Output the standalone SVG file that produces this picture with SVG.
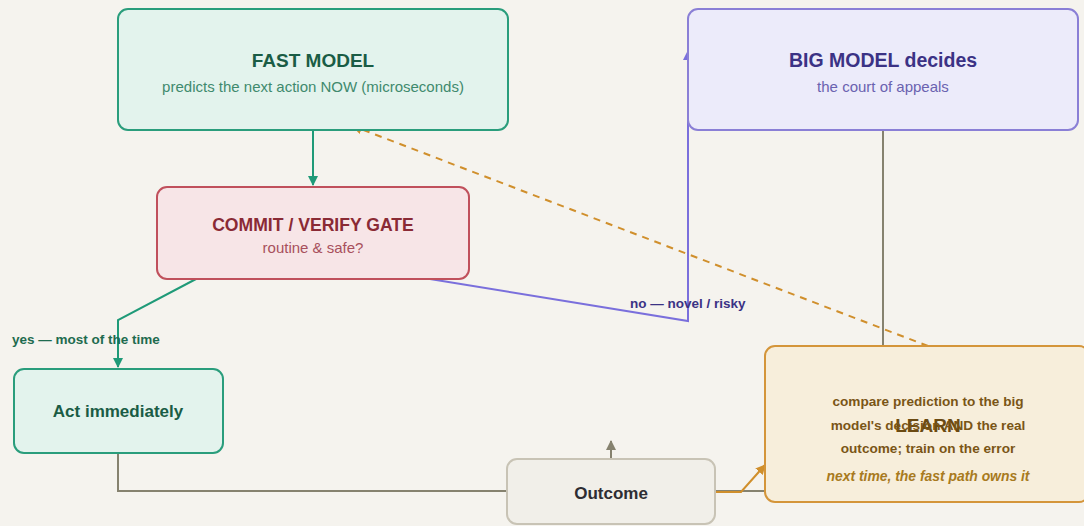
<svg xmlns="http://www.w3.org/2000/svg" width="1084" height="526" viewBox="0 0 1084 526">
  <defs>
    <style>
      .t { font-family: "Liberation Sans", Arial, sans-serif; text-anchor: middle; }
      .title { font-size: 19px; font-weight: bold; }
      .sub { font-size: 15px; }
      .desc { font-size: 13.6px; font-weight: bold; fill: #7a5516; }
      .lbl { font-family: "Liberation Sans", Arial, sans-serif; font-size: 13.5px; font-weight: bold; }
      .edge { fill: none; stroke-width: 2; }
    </style>
    <marker id="ahGreen" viewBox="0 0 10 10" refX="9" refY="5" markerWidth="5" markerHeight="5" orient="auto">
      <path d="M0,0 L10,5 L0,10 z" fill="#1f9a78"/>
    </marker>
    <marker id="ahPurple" viewBox="0 0 10 10" refX="9" refY="5" markerWidth="5" markerHeight="5" orient="auto">
      <path d="M0,0 L10,5 L0,10 z" fill="#7a6fdc"/>
    </marker>
    <marker id="ahGray" viewBox="0 0 10 10" refX="9" refY="5" markerWidth="5" markerHeight="5" orient="auto">
      <path d="M0,0 L10,5 L0,10 z" fill="#86826f"/>
    </marker>
    <marker id="ahOrange" viewBox="0 0 10 10" refX="9" refY="5" markerWidth="5" markerHeight="5" orient="auto">
      <path d="M0,0 L10,5 L0,10 z" fill="#d08f2c"/>
    </marker>
  </defs>

  <rect x="0" y="0" width="1084" height="526" fill="#f5f3ee"/>

  <!-- connectors -->
  <g id="connectors">
    <path class="edge" d="M313,130 L313,185" stroke="#1f9a78" marker-end="url(#ahGreen)"/>
    <path class="edge" d="M196,279 L118,320 L118,367" stroke="#1f9a78" marker-end="url(#ahGreen)"/>
    <path class="edge" d="M430,279 L688,321 L688,51" stroke="#7a6fdc" marker-end="url(#ahPurple)"/>
    <path class="edge" d="M883,130 L883,346" stroke="#86826f"/>
    <path class="edge" d="M118,453 L118,491 L507,491" stroke="#86826f"/>
    <path class="edge" d="M611,459 L611,441" stroke="#86826f" marker-end="url(#ahGray)"/>
    <path class="edge" d="M715,491 L765,491" stroke="#86826f"/>
    <path class="edge" d="M715,492 L741,492 L765,465" stroke="#d08f2c" marker-end="url(#ahOrange)"/>
    <path class="edge" d="M928,346 L353,126" stroke="#d08f2c" stroke-dasharray="7,6" marker-end="url(#ahOrange)"/>
    <text class="lbl" x="12" y="344" fill="#1e6b4f">yes — most of the time</text>
    <text class="lbl" x="630" y="308" fill="#3b3285">no — novel / risky</text>
  </g>

  <g id="fast-model">
    <rect x="118" y="9" width="390" height="121" rx="10" fill="#e3f3ed" stroke="#2a9d7c" stroke-width="2"/>
    <text class="t title" x="313" y="67" fill="#1a5c45">FAST MODEL</text>
    <text class="t sub" x="313" y="92" fill="#3f8a6e">predicts the next action NOW (microseconds)</text>
  </g>

  <g id="big-model">
    <rect x="688" y="9" width="390" height="121" rx="10" fill="#ecebfa" stroke="#8a7fd6" stroke-width="2"/>
    <text class="t title" x="883" y="67" fill="#3b3285" style="font-size:19.5px">BIG MODEL decides</text>
    <text class="t sub" x="883" y="92" fill="#6a62b0">the court of appeals</text>
  </g>

  <g id="verify-gate">
    <rect x="157" y="187" width="312" height="92" rx="10" fill="#f7e5e7" stroke="#c0505c" stroke-width="2"/>
    <text class="t title" x="313" y="231" fill="#8a2a35" style="font-size:17.6px">COMMIT / VERIFY GATE</text>
    <text class="t sub" x="313" y="253" fill="#a8505c">routine &amp; safe?</text>
  </g>

  <g id="act-immediately">
    <rect x="14" y="369" width="209" height="84" rx="10" fill="#e3f3ed" stroke="#2a9d7c" stroke-width="2"/>
    <text class="t" x="118" y="417" font-size="17" font-weight="bold" fill="#1a5c45">Act immediately</text>
  </g>

  <g id="outcome">
    <rect x="507" y="459" width="208" height="65" rx="10" fill="#f1efe9" stroke="#c8c3b5" stroke-width="2"/>
    <text class="t" x="611" y="499" font-size="17" font-weight="bold" fill="#2e2d33">Outcome</text>
  </g>

  <g id="learn">
    <rect x="765" y="346" width="324" height="156" rx="10" fill="#f7eedb" stroke="#d4953a" stroke-width="2"/>
    <text class="t title" x="928" y="432" fill="#6b4a12">LEARN</text>
    <text class="t desc" x="928" y="406">compare prediction to the big</text>
    <text class="t desc" x="928" y="430">model's decision AND the real</text>
    <text class="t desc" x="928" y="453">outcome; train on the error</text>
    <text class="t" x="928" y="481" font-size="13.9" font-weight="bold" font-style="italic" fill="#a87a20">next time, the fast path owns it</text>
  </g>
</svg>
